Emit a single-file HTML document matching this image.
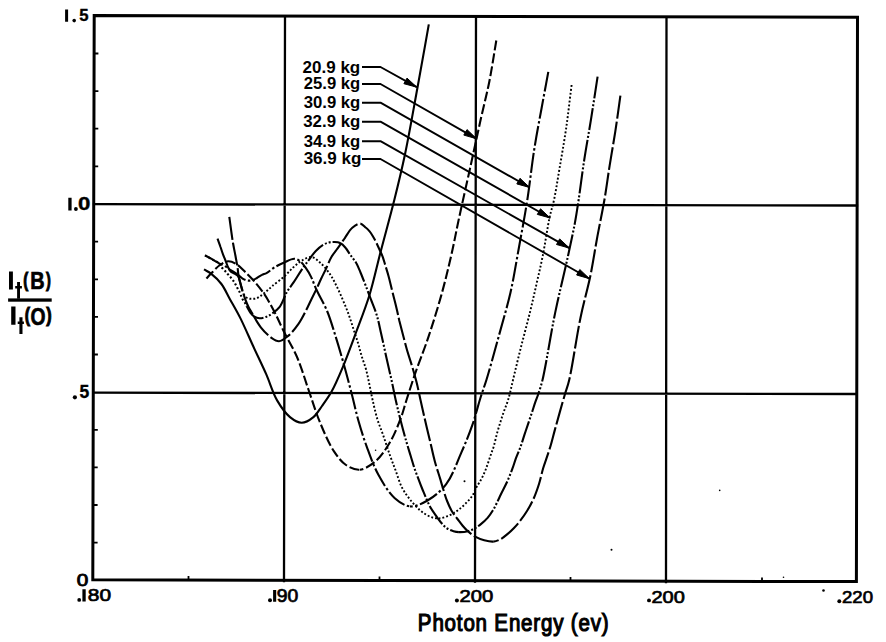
<!DOCTYPE html>
<html><head><meta charset="utf-8"><style>
html,body{margin:0;padding:0;background:#fff;width:886px;height:642px;overflow:hidden;}
svg{display:block;}
</style></head><body>
<svg width="886" height="642" viewBox="0 0 886 642">
<g fill="none" stroke="#000" stroke-linecap="square">
<path d="M94.2 15.6 L857.5 17.3 L856.4 581.6 L92.8 579.8 Z" stroke-width="3" stroke-linejoin="miter"/>
<path d="M94 204.2 L857 205.5 M93.5 392.7 L856.5 394 M285 16.3 L284 581 M476 17 L475 581.5 M666.5 17.4 L666 582" stroke-width="2.3"/>
<path d="M93.9 53.5 h4.5 M93.9 91.1 h4.5 M93.8 128.7 h4.5 M93.7 166.4 h4.5 M93.6 241.6 h4.5 M93.5 279.3 h4.5 M93.5 316.9 h4.5 M93.4 354.5 h4.5 M93.3 429.8 h4.5 M93.2 467.4 h4.5 M93.1 505.0 h4.5 M93.1 542.7 h4.5 M188.5 580.6 v-4.5 M379.5 581.1 v-4.5 M570.5 581.6 v-4.5 M762.0 582.1 v-4.5 " stroke-width="1.8" stroke-linecap="butt"/>
</g>
<g fill="none" stroke="#000" stroke-width="2.1" stroke-linejoin="round">
<path d="M204.0 269.4 C206.3 270.8 208.6 271.7 211.0 273.6 C214.3 276.2 218.4 280.0 221.4 284.0 C224.7 288.3 226.8 293.6 229.8 298.9 C233.2 305.0 237.0 311.4 240.6 318.6 C244.7 326.9 248.8 336.6 253.0 345.8 C257.3 355.2 262.1 364.9 266.2 374.2 C270.1 383.1 272.7 392.9 277.1 400.4 C280.9 406.9 285.3 413.3 290.0 417.1 C293.7 420.1 297.8 422.7 301.7 422.7 C305.6 422.7 310.1 419.8 313.4 417.1 C316.9 414.3 319.1 410.0 322.0 406.0 C325.2 401.6 328.5 397.2 331.6 391.6 C335.4 384.7 338.9 376.4 342.6 367.6 C347.0 357.1 351.6 344.4 356.0 332.5 C360.6 320.2 365.5 308.0 369.5 295.0 C373.7 281.3 376.6 267.2 380.5 252.3 C384.8 235.7 390.1 216.8 394.3 200.0 C398.2 184.5 401.3 171.8 404.8 155.3 C409.1 135.0 413.5 109.3 417.6 87.0 C421.5 65.7 425.1 45.3 428.8 24.4"/>
<path d="M206.4 278.5 C207.9 276.9 209.2 275.4 211.0 273.6 C213.5 271.1 216.9 267.1 220.0 265.0 C222.6 263.2 225.3 261.5 228.0 261.3 C230.7 261.1 233.5 262.4 236.2 264.0 C239.6 266.0 243.2 270.1 246.3 273.1 C249.1 275.8 251.3 277.9 254.0 281.0 C257.3 284.8 261.2 289.6 264.5 294.4 C267.9 299.5 270.9 305.2 274.0 311.0 C277.3 317.3 280.1 323.9 283.6 331.0 C287.6 339.1 293.0 347.7 297.0 357.0 C301.4 367.2 304.8 379.1 308.6 390.0 C312.3 400.6 315.4 411.2 319.6 421.4 C323.8 431.6 328.8 443.6 334.0 451.4 C337.8 457.1 341.4 461.9 346.0 465.0 C350.1 467.7 355.0 470.1 359.7 469.7" stroke-dasharray="10 3"/>
<path d="M496.3 40.5 C494.0 54.2 491.9 68.4 489.3 81.7 C486.8 94.2 483.9 105.0 481.0 118.1 C477.6 133.6 473.6 152.0 470.0 168.6 C466.4 184.8 462.7 201.2 459.4 216.4 C456.4 230.1 454.2 242.6 451.2 255.6 C448.2 268.7 445.1 281.6 441.4 294.9 C437.5 308.8 432.8 323.9 428.3 337.4 C424.1 350.0 419.0 362.3 415.2 373.4 C411.9 382.9 409.1 391.9 406.5 400.0 C404.3 406.8 403.1 412.2 400.6 418.7 C397.8 426.1 394.3 434.9 390.1 442.0 C386.1 448.8 381.5 456.1 376.1 460.8 C371.2 465.0 365.0 469.3 359.7 469.7" stroke-dasharray="10 3"/>
<path d="M205.0 255.3 C207.3 256.6 209.7 257.9 212.0 259.2 C214.3 260.5 216.4 261.9 218.7 263.1 C221.1 264.4 224.3 265.6 226.2 266.8 C227.5 267.6 228.0 268.4 229.3 269.3 C231.3 270.7 235.0 272.6 237.4 274.3 C239.4 275.7 240.9 277.5 242.6 278.6 C244.0 279.5 245.6 280.2 246.9 280.5 C248.0 280.7 249.0 280.7 250.0 280.6 C251.1 280.5 252.1 280.2 253.2 279.8 C254.4 279.4 255.6 278.7 256.9 278.0 C258.5 277.1 260.2 275.7 261.9 274.9 C263.4 274.1 264.8 274.0 266.5 273.1 C269.0 271.8 272.0 268.9 274.9 267.1 C277.9 265.3 281.0 263.9 284.2 262.5 C287.5 261.1 291.4 258.7 294.3 258.8 C296.5 258.9 298.2 259.9 300.0 261.2 C302.1 262.7 303.8 265.2 305.6 267.7 C307.6 270.5 309.5 273.7 311.2 277.1 C313.1 281.0 314.3 285.1 316.5 289.8 C319.3 296.0 324.0 303.6 327.1 311.0 C330.3 318.6 332.5 326.6 335.1 334.8 C337.8 343.4 340.3 351.9 343.0 361.3 C346.0 371.8 349.3 384.5 352.0 395.0 C354.4 404.2 356.0 412.4 358.5 421.0 C361.0 429.7 363.6 438.1 366.8 446.8 C370.2 456.0 373.6 466.1 378.4 474.8 C383.0 483.2 388.7 492.8 394.8 498.2 C399.5 502.4 404.7 505.9 410.0 506.4" stroke-dasharray="20 2.5 2.5 2.5"/>
<path d="M548.3 71.9 C546.0 84.5 543.6 97.0 541.3 109.7 C538.9 122.7 536.5 135.0 534.3 149.0 C531.8 164.9 529.9 183.3 527.3 200.0 C524.8 216.2 521.7 232.1 518.9 247.7 C516.1 262.9 513.8 277.9 510.5 292.5 C507.2 306.8 503.1 320.3 499.2 334.6 C495.1 349.5 489.9 368.6 486.4 380.0 C484.2 387.0 482.8 390.5 480.8 396.8 C478.2 405.0 475.6 415.6 472.4 424.9 C469.1 434.3 465.4 443.4 461.2 452.9 C456.7 463.1 452.5 475.9 446.2 484.2 C440.9 491.2 434.0 496.8 427.5 500.5 C421.9 503.7 415.5 506.9 410.0 506.4" stroke-dasharray="20 2.5 2.5 2.5"/>
<path d="M217.5 238.7 C218.5 241.5 219.6 244.3 220.5 247.0 C221.4 249.5 222.1 252.0 223.0 254.3 C223.8 256.5 224.7 258.5 225.5 260.6 C226.4 262.8 227.2 265.6 228.2 267.5 C229.0 269.0 229.6 270.4 230.7 271.4 C231.7 272.4 233.3 272.8 234.5 273.6 C235.7 274.4 237.1 274.8 238.0 276.0 C239.1 277.4 239.4 279.9 240.0 282.0 C240.7 284.3 241.3 287.1 241.9 289.2 C242.4 291.0 242.8 292.6 243.5 294.0" stroke-dasharray="60 3"/>
<path d="M243.5 294.0 C244.2 295.2 245.0 296.4 246.0 297.2 C246.9 297.9 247.9 298.3 249.0 298.6 C250.1 298.9 251.3 298.8 252.5 298.8 C253.7 298.8 255.1 298.9 256.3 298.5 C257.4 298.1 258.4 297.4 259.4 296.7 C260.5 296.0 261.4 295.3 262.5 294.4 C264.0 293.2 265.9 291.7 267.5 290.3 C269.1 289.0 270.1 287.9 272.0 286.3 C275.0 283.7 280.5 279.8 284.2 276.5 C287.6 273.4 290.5 269.9 293.6 267.1 C296.4 264.6 299.0 262.2 302.0 260.5 C304.9 258.9 308.5 256.7 311.5 257.0 C314.5 257.3 317.2 260.1 320.0 262.5 C323.4 265.4 327.0 269.9 329.8 273.9 C332.5 277.7 334.4 281.7 336.5 286.0 C338.8 290.5 341.0 295.6 343.0 300.4 C345.0 305.0 346.8 309.3 348.5 314.0 C350.3 319.0 352.0 324.5 353.6 329.5 C355.1 334.2 356.7 338.5 358.0 343.0 C359.3 347.4 360.3 351.6 361.6 356.0 C363.0 360.6 364.9 365.2 366.2 370.0 C367.5 374.9 368.4 380.0 369.5 385.0 C370.6 390.0 371.4 394.7 372.6 400.0 C374.0 406.1 375.6 413.5 377.5 419.6 C379.2 425.1 381.2 429.5 383.1 435.0 C385.3 441.3 387.8 449.3 390.0 455.5 C391.9 460.8 393.6 465.1 395.5 470.2 C397.6 475.8 399.4 482.5 402.0 487.6 C404.3 492.1 407.0 495.7 410.0 499.5 C413.0 503.3 416.8 507.6 420.0 510.3 C422.4 512.4 424.5 513.7 426.8 515.0 C429.0 516.2 431.2 517.3 433.5 517.8 C435.7 518.3 438.1 518.5 440.3 518.3" stroke-dasharray="1.9 2" stroke-width="1.9"/>
<path d="M571.6 85.0 C569.7 99.8 568.1 115.0 566.0 129.3 C564.0 142.8 561.6 156.2 559.5 168.6 C557.6 179.7 555.9 191.2 554.0 200.0 C552.6 206.5 551.2 210.0 549.7 216.8 C547.5 227.1 545.1 244.1 542.7 256.0 C540.7 266.1 538.6 274.7 536.5 284.0 C534.4 293.4 532.4 302.2 530.0 312.1 C527.3 323.1 523.9 335.5 521.0 347.0 C518.2 358.1 515.3 370.4 513.0 380.0 C511.2 387.5 509.9 394.2 508.1 400.0 C506.7 404.6 505.0 408.2 503.7 412.0 C502.5 415.4 501.6 418.4 500.5 421.8 C499.4 425.3 498.3 428.8 497.2 432.7 C496.0 437.0 494.9 442.6 493.7 446.5 C492.8 449.5 491.9 451.5 491.0 454.2 C489.9 457.3 488.8 460.8 487.7 464.0 C486.6 467.0 485.7 469.8 484.4 472.7 C483.1 475.6 481.6 478.8 480.1 481.4 C478.8 483.6 477.5 485.3 476.3 487.5 C474.9 490.0 474.1 493.0 472.4 495.6 C470.6 498.3 468.1 500.9 465.9 503.2 C463.8 505.4 461.5 507.5 459.4 509.2 C457.5 510.7 455.9 511.8 453.9 513.0 C451.8 514.2 449.4 515.4 447.1 516.3 C444.9 517.2 442.6 518.1 440.3 518.3" stroke-dasharray="1.9 2" stroke-width="1.9"/>
<path d="M205.0 255.3 C207.3 256.6 209.7 257.9 212.0 259.2 C214.3 260.5 217.0 261.5 218.7 263.1 C220.1 264.4 220.7 266.2 221.8 267.5 C222.8 268.7 223.9 269.7 224.9 270.8 C225.8 271.8 226.5 272.7 227.4 273.7 C228.3 274.7 229.2 275.7 230.1 276.7 C231.0 277.7 231.8 278.7 232.6 279.8 C233.5 281.0 234.4 282.3 235.1 283.6 C235.8 284.8 236.4 286.1 237.0 287.3 C237.6 288.4 238.2 289.3 238.8 290.4 C239.5 291.7 240.1 293.3 240.7 294.8 C241.3 296.3 241.9 297.8 242.6 299.2 C243.3 300.5 244.3 301.6 245.0 302.9 C245.7 304.1 246.2 305.2 246.9 306.6" stroke-dasharray="2 2.2"/>
<path d="M246.9 306.6 C247.9 308.4 249.0 310.9 250.3 312.6 C251.5 314.2 252.8 315.8 254.4 316.7 C255.9 317.6 257.7 318.1 259.5 318.2 C261.6 318.3 264.4 317.5 266.5 316.7 C268.5 315.9 270.1 315.0 272.0 313.6 C274.4 311.9 277.4 309.8 279.7 306.8 C282.6 303.0 284.4 296.3 286.9 292.0 C289.0 288.4 291.1 286.1 293.4 282.7 C296.1 278.7 299.0 273.7 301.8 269.6 C304.3 265.9 306.9 262.5 309.3 259.3 C311.5 256.3 313.5 253.3 315.8 250.9 C317.9 248.7 320.1 246.7 322.4 245.3 C324.5 244.0 326.8 243.0 328.9 242.5 C330.7 242.0 332.2 241.9 334.0 242.0 C335.9 242.1 338.2 242.1 340.0 243.0 C342.0 243.9 343.9 245.8 345.5 247.7 C347.3 249.7 348.7 252.7 350.1 254.7 C351.2 256.2 352.2 257.2 353.2 258.6 C354.3 260.1 355.4 261.4 356.4 263.3 C357.8 265.8 359.1 269.2 360.5 272.5 C362.1 276.3 363.7 280.5 365.4 284.8 C367.2 289.5 369.1 294.7 371.0 299.7 C372.9 304.7 375.0 309.4 376.6 314.7 C378.4 320.4 379.5 326.4 381.0 333.0 C382.8 340.7 384.7 349.9 386.5 358.0 C388.2 365.6 389.9 372.8 391.5 380.0 C393.0 386.8 394.2 393.3 395.7 400.0 C397.2 406.7 398.8 413.2 400.5 420.0 C402.3 427.1 404.5 435.3 406.4 441.8 C407.9 447.1 409.4 451.6 410.7 456.0 C411.9 459.9 412.8 463.2 414.0 466.9 C415.3 470.8 416.9 475.0 418.4 478.9 C419.8 482.7 421.3 486.6 422.7 490.0 C423.9 492.9 424.9 495.4 426.1 498.1 C427.4 501.0 428.6 504.1 430.2 506.9 C431.7 509.7 433.6 512.3 435.4 514.9 C437.1 517.4 438.8 519.9 440.8 522.2 C442.8 524.5 444.9 527.0 447.2 528.5 C449.2 529.8 451.4 530.6 453.5 531.2 C455.3 531.7 456.9 532.0 458.9 532.1" stroke-dasharray="22 2 2 2 2 2"/>
<path d="M597.6 76.6 C595.5 90.4 593.4 104.2 591.2 118.1 C589.0 132.1 586.3 146.4 584.2 160.2 C582.1 173.6 580.3 188.6 578.6 200.0 C577.3 208.5 576.5 214.2 575.0 222.4 C573.1 232.5 570.7 243.4 568.0 256.0 C564.5 272.3 559.4 292.5 555.3 312.1 C550.8 333.6 545.9 365.9 542.5 380.0 C540.9 386.5 539.6 390.0 538.3 394.0 C537.3 397.1 536.3 399.3 535.3 402.2 C534.2 405.3 533.2 408.7 532.1 412.0 C531.0 415.3 530.0 418.3 528.8 421.8 C527.4 425.9 525.9 430.5 524.4 434.9 C523.0 439.3 521.6 443.9 520.1 448.0 C518.7 451.8 517.0 455.3 515.7 458.9 C514.5 462.2 513.7 465.2 512.4 468.7 C510.9 472.7 509.2 477.2 507.3 481.4 C505.3 485.8 502.7 490.6 500.8 494.5 C499.3 497.6 498.2 500.3 496.8 503.0 C495.5 505.6 494.3 508.1 492.8 510.5 C491.3 512.9 489.7 515.4 487.8 517.6 C485.7 520.0 483.0 522.5 480.6 524.4 C478.5 526.1 476.4 527.5 474.2 528.7 C472.1 529.8 470.2 530.6 467.9 531.2 C465.2 531.9 461.5 532.2 458.9 532.1" stroke-dasharray="22 2 2 2 2 2"/>
<path d="M229.3 216.9 C230.5 225.6 231.8 235.8 233.0 243.0 C233.9 248.1 234.7 251.8 235.5 256.0 C236.2 260.1 237.1 264.4 237.6 268.0 C238.0 270.9 238.1 273.3 238.6 276.0 C239.1 278.7 239.9 281.4 240.7 284.2 C241.5 287.1 242.4 290.2 243.2 292.9 C244.0 295.4 244.6 297.7 245.5 300.0 C246.4 302.4 247.4 304.7 248.5 307.0 C249.6 309.3 250.8 311.0 252.3 313.6 C254.5 317.4 257.6 323.2 260.8 327.3 C263.9 331.2 267.7 335.2 271.1 337.6 C273.7 339.4 276.3 341.3 279.0 341.2 C282.0 341.1 285.2 338.3 288.2 335.9 C291.8 332.9 295.6 328.0 298.5 323.9 C301.2 320.0 303.2 316.0 305.3 311.9 C307.4 307.9 309.3 303.6 311.2 299.7 C313.0 296.0 314.8 292.5 316.5 289.0 C318.1 285.6 319.4 282.4 321.0 279.0 C322.6 275.6 324.4 272.2 326.1 268.6 C327.9 264.7 329.7 259.8 331.7 256.5 C333.2 253.9 334.8 252.2 336.4 250.0 C338.0 247.8 339.6 245.5 341.1 243.4 C342.5 241.5 343.5 239.9 345.0 237.8 C347.0 234.9 349.5 230.2 352.3 227.8 C354.7 225.7 357.8 223.4 360.2 223.6 C362.2 223.7 364.1 226.1 365.7 227.5 C367.2 228.7 368.4 230.0 369.6 231.4 C370.8 232.8 371.7 234.3 372.7 236.0 C373.8 237.8 374.9 239.8 376.0 242.0 C377.2 244.5 378.5 247.4 379.7 250.0 C380.8 252.4 381.9 254.6 382.8 257.1 C383.7 259.6 384.3 262.1 385.2 265.0 C386.2 268.4 387.5 272.2 388.5 276.0 C389.6 279.9 390.5 284.0 391.5 288.0 C392.5 292.0 393.5 296.2 394.5 300.0 C395.4 303.5 396.2 306.8 397.0 310.2 C397.8 313.6 398.4 316.7 399.2 320.3 C400.2 324.3 401.3 328.5 402.5 333.0 C403.9 338.3 405.4 344.4 407.0 350.0 C408.6 355.4 410.4 360.7 412.0 366.0 C413.6 371.3 415.1 376.5 416.5 382.0 C418.0 387.8 419.1 393.7 420.5 400.0 C422.1 407.0 423.8 414.8 425.5 422.0 C427.1 429.1 428.9 436.2 430.5 443.0 C432.0 449.5 433.3 455.9 435.0 462.0 C436.6 467.8 438.7 473.9 440.2 478.9 C441.4 483.0 442.3 486.3 443.5 490.0 C444.6 493.7 445.6 497.4 447.1 501.0 C448.6 504.8 450.6 509.2 452.5 512.3 C454.0 514.8 455.5 516.4 457.1 518.5 C458.8 520.7 460.5 523.2 462.3 525.3 C464.1 527.4 465.8 529.4 467.9 531.2 C470.1 533.1 472.5 535.1 475.1 536.6 C477.9 538.1 481.1 539.4 484.2 540.2 C487.2 541.0 490.4 541.8 493.2 541.6" stroke-dasharray="23 3"/>
<path d="M620.4 95.7 C618.7 107.8 617.0 120.2 615.2 132.1 C613.4 143.6 611.4 154.5 609.6 165.8 C607.8 177.2 606.4 188.4 604.4 200.0 C602.3 212.0 599.7 224.0 597.4 236.4 C595.0 249.2 593.1 262.4 590.4 275.7 C587.5 289.5 583.7 302.3 580.5 317.7 C576.6 336.4 572.4 366.7 569.2 380.0 C567.7 386.4 566.7 388.3 565.0 394.0 C562.3 403.1 557.6 419.8 555.0 429.4 C553.2 435.9 552.1 440.7 550.6 445.8 C549.2 450.4 547.6 454.9 546.3 458.9 C545.1 462.4 544.1 465.1 543.0 468.7 C541.7 473.2 540.5 479.1 539.0 484.0 C537.5 488.7 536.0 493.2 534.0 497.7 C532.0 502.2 529.5 507.0 527.0 511.0 C524.8 514.6 522.3 518.0 520.0 521.0 C518.0 523.6 516.1 525.8 514.0 528.0 C512.0 530.1 509.9 532.0 507.7 533.9 C505.4 535.8 502.9 538.0 500.4 539.3 C498.1 540.5 495.8 541.4 493.2 541.6" stroke-dasharray="23 3"/>
</g>
<g fill="none" stroke="#000" stroke-width="1.9" stroke-linejoin="round">
<path d="M362.0 67.0 H380.5 L416.8 87.2"/>
<path d="M362.0 84.0 H380.5 L476.7 138.8"/>
<path d="M362.0 102.7 H380.5 L529.7 187.5"/>
<path d="M362.0 121.7 H380.5 L550.2 218.0"/>
<path d="M362.0 141.2 H380.5 L569.4 248.1"/>
<path d="M362.0 159.0 H380.5 L589.5 278.7"/>
</g>
<path d="M416.8 87.2 L403.9 83.7 L407.0 78.1 Z M476.7 138.8 L463.8 135.1 L467.0 129.6 Z M529.7 187.5 L516.8 183.9 L520.0 178.3 Z M550.2 218.0 L537.3 214.4 L540.5 208.8 Z M569.4 248.1 L556.5 244.5 L559.7 238.9 Z M589.5 278.7 L576.6 275.0 L579.8 269.5 Z " fill="#000" stroke="#000" stroke-width="1" stroke-linejoin="round"/>
<g fill="#000" font-family="Liberation Sans, sans-serif" font-size="100">
<text transform="matrix(0.1702 0 0 0.1622 302.59 72.64)" font-weight="bold" >20.9 kg</text>
<text transform="matrix(0.1666 0 0 0.1622 303.80 89.44)" font-weight="bold" >25.9 kg</text>
<text transform="matrix(0.1670 0 0 0.1662 303.67 108.23)" font-weight="bold" >30.9 kg</text>
<text transform="matrix(0.1682 0 0 0.1662 303.26 126.83)" font-weight="bold" >32.9 kg</text>
<text transform="matrix(0.1670 0 0 0.1716 303.67 146.63)" font-weight="bold" >34.9 kg</text>
<text transform="matrix(0.1703 0 0 0.1649 303.66 164.44)" font-weight="bold" >36.9 kg</text>
<text transform="matrix(0.1673 0 0 0.1726 79.17 21.28)" font-weight="bold" stroke="#000" stroke-width="2">5</text>
<text transform="matrix(0.2224 0 0 0.1784 77.93 210.16)" font-weight="bold" stroke="#000" stroke-width="2">0</text>
<text transform="matrix(0.1750 0 0 0.1767 79.45 398.27)" font-weight="bold" stroke="#000" stroke-width="2">5</text>
<text transform="matrix(0.2075 0 0 0.1600 76.79 585.52)" font-weight="normal" stroke="#000" stroke-width="5">0</text>
<text transform="matrix(0.2093 0 0 0.1733 87.78 601.18)" font-weight="normal" stroke="#000" stroke-width="4">80</text>
<text transform="matrix(0.1934 0 0 0.1773 276.82 601.87)" font-weight="normal" stroke="#000" stroke-width="4">90</text>
<text transform="matrix(0.2025 0 0 0.1693 459.49 602.29)" font-weight="normal" stroke="#000" stroke-width="4">200</text>
<text transform="matrix(0.2000 0 0 0.1693 651.50 602.69)" font-weight="normal" stroke="#000" stroke-width="4">200</text>
<text transform="matrix(0.1858 0 0 0.1720 842.04 603.18)" font-weight="normal" stroke="#000" stroke-width="4">220</text>
<text transform="matrix(0.2054 0 0 0.2416 417.87 631.22)" font-weight="normal" letter-spacing="4" stroke="#000" stroke-width="5">Photon Energy (ev)</text>
<text transform="matrix(0.1500 0 0 0.2071 23.15 286.64)" font-weight="bold" stroke="#000" stroke-width="5">(</text>
<text transform="matrix(0.1984 0 0 0.2431 30.21 289.21)" font-weight="bold" stroke="#000" stroke-width="3">B</text>
<text transform="matrix(0.1457 0 0 0.2071 45.88 286.64)" font-weight="bold" stroke="#000" stroke-width="5">)</text>
<text transform="matrix(0.1588 0 0 0.2071 24.82 321.74)" font-weight="bold" stroke="#000" stroke-width="5">(</text>
<text transform="matrix(0.1931 0 0 0.2466 30.62 324.61)" font-weight="bold" stroke="#000" stroke-width="3">O</text>
<text transform="matrix(0.1629 0 0 0.2071 46.25 322.04)" font-weight="bold" stroke="#000" stroke-width="5">)</text>
<path d="M9 271.4h3.9v18h-3.9z M11.2 306.5h4.3v18.3h-4.3z M17.1 282.1h2.9v16.6h-2.9z M15.2 286.1h6.7v2.4h-6.7z M19.4 317.2h3.1v16.7h-3.1z M17.7 321.5h6.2v2.4h-6.2z"/>
<rect x="8.1" y="298.4" width="43.6" height="3.3"/>
<path d="M65.1 9.5h3v12.3h-3z M68.3 197.7h3.3v12.8h-3.3z M82.4 589.2h3.3v12.4h-3.3z M273.1 589.9h3.1v11.9h-3.1z"/>
<circle cx="74.2" cy="20.6" r="1.80"/>
<circle cx="75.9" cy="209.0" r="1.90"/>
<circle cx="74.9" cy="397.3" r="2.10"/>
<circle cx="79.2" cy="599.9" r="1.90"/>
<circle cx="270.0" cy="600.2" r="2.00"/>
<circle cx="456.9" cy="600.6" r="2.00"/>
<circle cx="649.0" cy="600.4" r="1.95"/>
<circle cx="839.3" cy="601.2" r="1.95"/>
</g>
<g fill="#000"><circle cx="719.7" cy="490.4" r="0.8"/><circle cx="611.5" cy="549.8" r="1"/><circle cx="823.5" cy="590.5" r="1.3"/><circle cx="783.5" cy="577.3" r="0.8"/><circle cx="464.5" cy="481.3" r="1"/><circle cx="375.6" cy="450.3" r="0.8"/></g>
</svg>
</body></html>
